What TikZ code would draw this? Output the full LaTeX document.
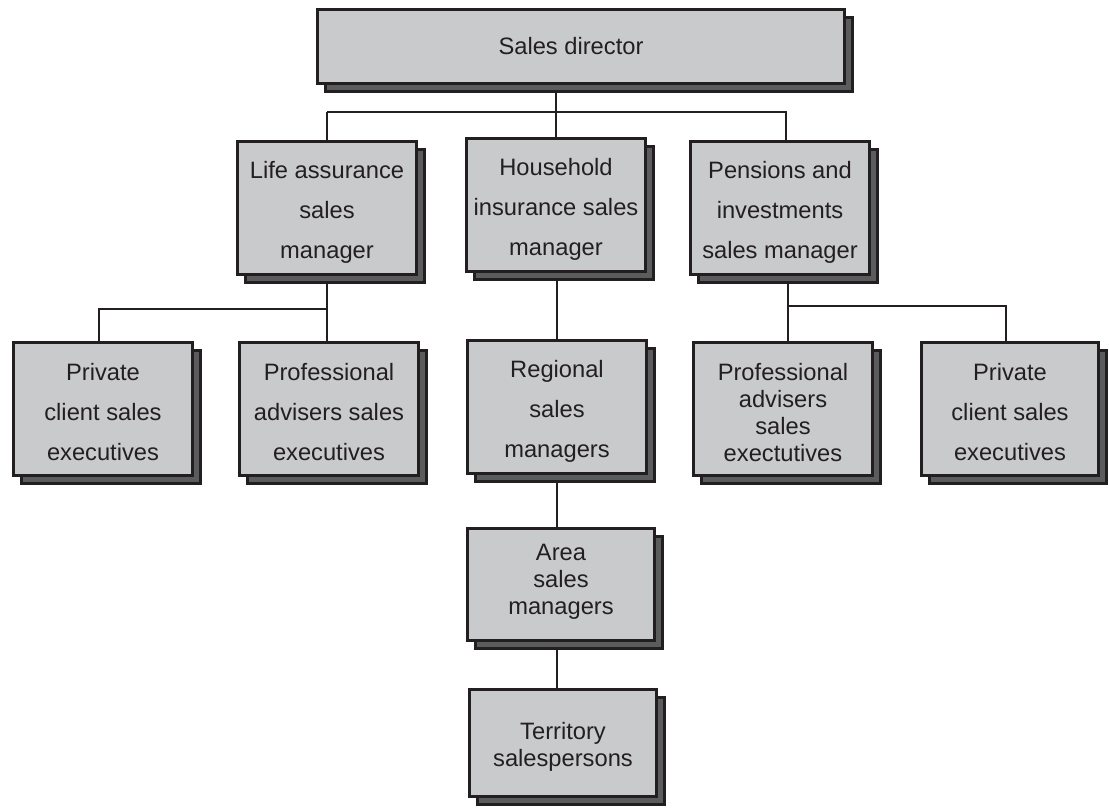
\documentclass[tikz,border=0pt]{standalone}
\usepackage{fontspec}
\setmainfont{Liberation Sans}
\usetikzlibrary{shadows,backgrounds}
\definecolor{boxfill}{HTML}{C9CACC}
\definecolor{shadefill}{HTML}{5B5C5E}
\definecolor{ink}{HTML}{231F20}
% struts that nudge a block of lines down (top) or up (bottom)
\newcommand{\topstrut}[1]{\rule{0pt}{#1pt}}
\newcommand{\botstrut}[1]{\rule[-#1pt]{0pt}{#1pt}}

\begin{document}
\begin{tikzpicture}[x=1pt,y=-1pt,
  orgbox/.style={rectangle, draw=ink, fill=boxfill, line width=2.7pt,
    text=ink, align=center, inner sep=0pt,
    minimum width=179pt, minimum height=133pt,
    general shadow={shadow xshift=8pt, shadow yshift=-8pt,
      fill=shadefill, draw=ink, line width=2.7pt},
    font=\fontsize{23.7}{40}\selectfont},
  tight/.style={font=\fontsize{23.7}{27}\selectfont},
  link/.style={draw=ink, line width=2.7pt}]
\useasboundingbox (0,0) rectangle (1109,807);

% top level
\node[orgbox, minimum width=527pt, minimum height=74pt] (dir) at (581,46.5)
  {\hspace*{-20pt}Sales director};

% managers
\node[orgbox] (life)  at (327,208) {\topstrut{25.3}Life assurance\\sales\\manager};
\node[orgbox] (house) at (556,205) {\topstrut{25.3}Household\\insurance sales\\manager};
\node[orgbox] (pens)  at (780,208) {\topstrut{25.3}Pensions and\\investments\\sales manager};

% executives and regional managers
\node[orgbox] (priv1) at (103,409)  {\topstrut{23.3}Private\\client sales\\executives};
\node[orgbox] (prof1) at (329,409)  {\topstrut{23.3}Professional\\advisers sales\\executives};
\node[orgbox] (reg)   at (557,407)  {\topstrut{25.3}Regional\\sales\\managers};
\node[orgbox, tight] (prof2) at (783,409)
  {\topstrut{23.3}Professional\\advisers\\sales\\exectutives};
\node[orgbox, minimum width=177pt] (priv2) at (1010,409)
  {\topstrut{23.3}Private\\client sales\\executives};

% field levels
\node[orgbox, tight, minimum width=187pt, minimum height=112pt] (area) at (561,584.5)
  {Area\\sales\\managers\botstrut{11}};
\node[orgbox, tight, minimum width=187pt, minimum height=107pt] (terr) at (563,743)
  {\topstrut{25.3}Territory\\salespersons};

\begin{scope}[on background layer]
  % director to managers
  \coordinate (tbus) at (556,112);
  \coordinate (pj) at (786,112);
  \draw[link] (dir.south -| tbus) -- (tbus |- house.north);
  \draw[link] (tbus -| life.north) -- (life.north);
  \draw[link] (tbus -| life.north) -- (pj) -- (pj |- pens.north);

  % life assurance branch
  \coordinate (lbus) at (99,309);
  \draw[link] (life.south) -- (life.south |- prof1.north);
  \draw[link] (lbus |- priv1.north) -- (lbus) -- (lbus -| life.south);

  % household branch
  \coordinate (cx) at (557,0);
  \draw[link] (cx |- house.south) -- (cx |- reg.north);
  \draw[link] (cx |- reg.south) -- (cx |- area.north);
  \draw[link] (cx |- area.south) -- (cx |- terr.north);

  % pensions branch
  \coordinate (rbus) at (788,306);
  \coordinate (rend) at (1006,306);
  \draw[link] (rbus |- pens.south) -- (rbus |- prof2.north);
  \draw[link] (rbus) -- (rend) -- (rend |- priv2.north);
\end{scope}
\end{tikzpicture}
\end{document}
